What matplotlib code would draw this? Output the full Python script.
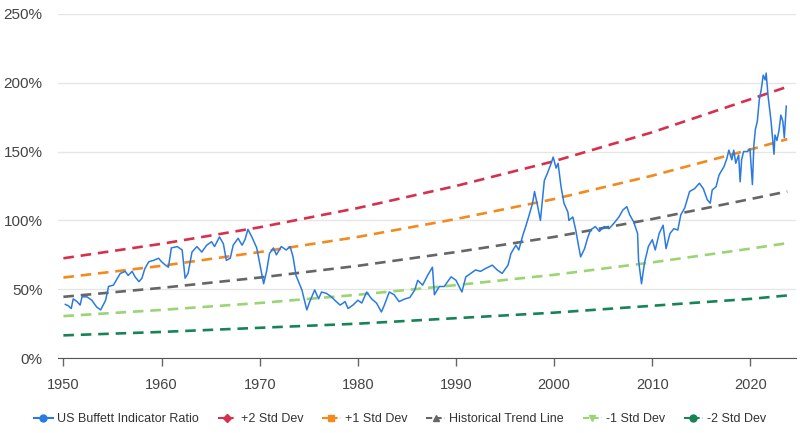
import matplotlib
matplotlib.use("Agg")
import matplotlib.pyplot as plt
from matplotlib.lines import Line2D
from matplotlib.ticker import FuncFormatter

plt.rcParams['font.family'] = ['Liberation Sans', 'DejaVu Sans']

# US Buffett Indicator (market cap / GDP, %)
ratio_years = [
    1950.2, 1950.5, 1950.8, 1951.0, 1951.4, 1951.7, 1951.9, 1952.4, 1952.9, 1953.4,
    1953.8, 1954.3, 1954.6, 1955.1, 1955.5, 1955.8, 1956.3, 1956.6, 1957.0, 1957.3,
    1957.7, 1958.0, 1958.3, 1958.7, 1959.2, 1959.7, 1960.0, 1960.4, 1960.7, 1961.0,
    1961.6, 1962.1, 1962.4, 1962.7, 1963.1, 1963.6, 1964.1, 1964.6, 1965.1, 1965.4,
    1965.9, 1966.3, 1966.6, 1967.0, 1967.3, 1967.8, 1968.2, 1968.5, 1968.8, 1969.2,
    1969.7, 1970.0, 1970.4, 1970.7, 1971.0, 1971.4, 1971.7, 1972.2, 1972.7, 1973.1,
    1973.4, 1973.7, 1974.3, 1974.8, 1975.1, 1975.6, 1976.0, 1976.3, 1976.8, 1977.3,
    1977.8, 1978.2, 1978.7, 1979.0, 1979.5, 1980.0, 1980.4, 1980.9, 1981.4, 1981.9,
    1982.4, 1982.7, 1983.2, 1983.7, 1984.2, 1984.8, 1985.3, 1985.8, 1986.1, 1986.6,
    1987.1, 1987.6, 1987.8, 1988.3, 1988.8, 1989.5, 1990.0, 1990.6, 1991.0, 1991.5,
    1992.0, 1992.5, 1993.0, 1993.7, 1994.2, 1994.7, 1995.3, 1995.6, 1996.1, 1996.4,
    1996.8, 1997.1, 1997.5, 1997.8, 1998.0, 1998.3, 1998.6, 1999.0, 1999.3, 1999.7,
    1999.9, 2000.2, 2000.4, 2000.7, 2001.0, 2001.4, 2001.5, 2001.9, 2002.2, 2002.5,
    2002.7, 2003.1, 2003.4, 2003.7, 2004.2, 2004.6, 2005.1, 2005.6, 2006.1, 2006.6,
    2007.0, 2007.4, 2007.7, 2008.1, 2008.5, 2008.6, 2008.9, 2009.2, 2009.6, 2010.0,
    2010.3, 2010.7, 2011.1, 2011.4, 2011.8, 2012.2, 2012.6, 2012.9, 2013.3, 2013.8,
    2014.3, 2014.8, 2015.2, 2015.6, 2015.9, 2016.1, 2016.5, 2016.8, 2017.3, 2017.6,
    2017.8, 2018.1, 2018.3, 2018.5, 2018.8, 2018.95, 2019.1, 2019.3, 2019.7, 2019.95,
    2020.2, 2020.35, 2020.5, 2020.7, 2020.9, 2021.1, 2021.3, 2021.5, 2021.6, 2021.8,
    2022.1, 2022.4, 2022.5, 2022.7, 2022.9, 2023.1, 2023.3, 2023.45, 2023.65,
]
ratio_values = [
    39, 38, 36, 43, 41, 38.5, 44.5, 44.5, 42, 37,
    35, 42, 52, 53, 58, 61.5, 63, 60, 63, 59,
    55.5, 58, 65, 70, 71, 72.5, 70, 67.5, 66, 80,
    81, 78.5, 58, 61.5, 77, 81, 77, 82, 84.5, 81,
    88, 83, 71, 72.5, 82, 87, 82, 86, 93.5, 88,
    80, 69, 54, 63, 76, 80, 75, 81, 78.5, 81,
    73.5, 60, 49.5, 35, 41, 49.5, 43, 48, 47, 44.5,
    41, 38.5, 41, 36, 38.5, 42, 40, 48, 43, 40,
    33.5, 38.5, 48, 46, 41, 43, 44, 49.5, 56.5, 53,
    60, 66, 46, 52, 52, 59, 56.5, 48, 59, 61.5,
    64, 63, 65, 67.5, 64, 61.5, 67.5, 76, 82, 78.5,
    89, 95.5, 105, 112.5, 121, 111, 100, 129, 134, 141.5,
    146, 138, 141.5, 124.5, 112.5, 106, 100, 102.5, 93, 81,
    73.5, 79.5, 87, 93, 95.5, 92, 95.5, 94, 98, 102.5,
    107.5, 110, 104, 99, 90.5, 71, 54, 69, 81, 86,
    78.5, 90.5, 96.5, 79.5, 90.5, 94, 93, 104, 109, 121,
    123, 127, 123, 115, 112.5, 122, 124.5, 133, 139, 145,
    151, 144, 151, 141.5, 147.5, 128, 144, 150, 150, 152,
    126, 155, 166, 172, 187.5, 195, 205.5, 202, 207, 190,
    172, 148, 162, 158, 165, 176.5, 172, 160, 183,
]

# trend line and std-dev bands, read at each decade
band_years = [1950, 1960, 1970, 1980, 1990, 2000, 2010, 2020, 2023.75]
plus2 = [72.5, 83, 95, 109, 125, 143, 164, 188, 197]
plus1 = [58.5, 67, 77, 88, 101, 115.5, 132.5, 151.5, 159]
trend = [44.5, 51, 58.5, 67, 77, 88, 101, 115.5, 121]
minus1 = [30.5, 35, 40, 46, 53, 60.5, 69.5, 79.5, 83.5]
minus2 = [16.5, 19, 22, 25, 29, 33, 38, 43, 45.5]

fig = plt.figure(figsize=(8, 4.33), dpi=100)
ax = fig.add_axes([0.0725, 0.173, 0.922, 0.795])

dash = (0, (4, 2.6))
ax.plot(band_years, plus2, color='#d7304c', lw=1.9, ls=dash, zorder=3)
ax.plot(band_years, plus1, color='#f28a1e', lw=1.9, ls=dash, zorder=3)
ax.plot(band_years, trend, color='#666666', lw=1.9, ls=dash, zorder=3)
ax.plot(band_years, minus1, color='#9bd573', lw=1.9, ls=dash, zorder=3)
ax.plot(band_years, minus2, color='#178456', lw=1.9, ls=dash, zorder=3)
ax.plot(ratio_years, ratio_values, color='#2a7ae2', lw=1.1, zorder=4)

ax.set_ylim(0, 250)
ax.set_xlim(1949.45, 2024.6)
ax.set_yticks([0, 50, 100, 150, 200, 250])
ax.set_xticks([1950, 1960, 1970, 1980, 1990, 2000, 2010, 2020])
ax.yaxis.set_major_formatter(FuncFormatter(lambda v, p: f"{v:.0f}%"))

ax.grid(axis='y', color='#e6e6e6', lw=1)
ax.set_axisbelow(True)
for s in ['top', 'right', 'left']:
    ax.spines[s].set_visible(False)
ax.spines['bottom'].set_color('#555555')
ax.tick_params(axis='y', length=0, labelsize=11, labelcolor='#444444', pad=11)
ax.tick_params(axis='x', length=6, width=1, color='#666666', labelsize=10.5,
               labelcolor='#444444', pad=8)

handles = [
    Line2D([], [], color='#2a7ae2', lw=1.5, marker='o', ms=5),
    Line2D([], [], color='#d7304c', lw=1.5, ls=(0, (3, 1.5)), marker='D', ms=4),
    Line2D([], [], color='#f28a1e', lw=1.5, ls=(0, (3, 1.5)), marker='s', ms=5),
    Line2D([], [], color='#666666', lw=1.5, ls=(0, (3, 1.5)), marker='^', ms=5),
    Line2D([], [], color='#9bd573', lw=1.5, ls=(0, (3, 1.5)), marker='v', ms=5),
    Line2D([], [], color='#178456', lw=1.5, ls=(0, (3, 1.5)), marker='o', ms=5),
]
labels = ['US Buffett Indicator Ratio', '+2 Std Dev', '+1 Std Dev',
          'Historical Trend Line', '-1 Std Dev', '-2 Std Dev']
fig.legend(handles, labels, loc='center', bbox_to_anchor=(0.5, 0.032), ncol=6,
           frameon=False, fontsize=9, handlelength=1.5, handletextpad=0.35,
           columnspacing=1.5, labelcolor='#333333')

fig.savefig('out.png', dpi=100)
